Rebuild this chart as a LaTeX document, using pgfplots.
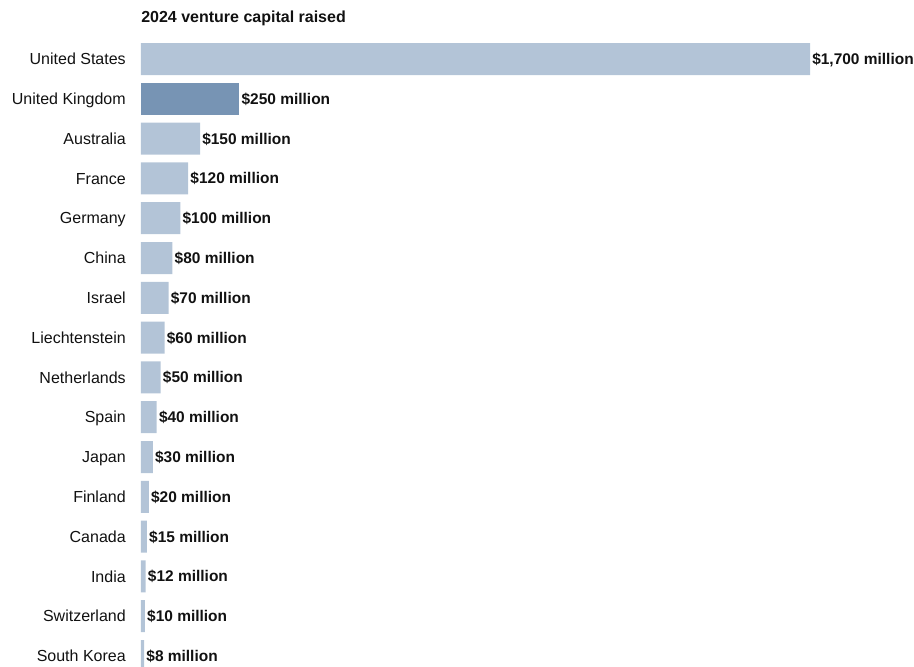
\documentclass[border=0pt]{standalone}
\usepackage{pgfplots}
\pgfplotsset{compat=1.18}
\usepackage{fontspec}
\setmainfont{Liberation Sans}
\definecolor{barlight}{HTML}{B3C4D7}
\definecolor{bardark}{HTML}{7794B4}
\definecolor{txt}{HTML}{111111}
\begin{document}
\begin{tikzpicture}
\useasboundingbox (0pt,0pt) rectangle (685.5pt,-500.25pt);
\node[anchor=west,inner sep=0pt,font=\fontsize{12}{14}\selectfont\bfseries,text=txt] at (105.75pt,-13.5pt) {2024 venture capital raised};
\begin{axis}[
  at={(105.75pt,-29.325pt)}, anchor=north west,
  scale only axis, width=578.25pt, height=477.6pt,
  xbar, bar width=24pt, bar shift=0pt,
  xmin=0, xmax=1959.2,
  ymin=-0.5, ymax=15.5, y dir=reverse,
  axis line style={draw=none},
  xtick=\empty,
  ytick={0,...,15},
  yticklabels={United States,United Kingdom,Australia,France,Germany,China,Israel,Liechtenstein,Netherlands,Spain,Japan,Finland,Canada,India,Switzerland,South Korea},
  major tick length=0pt,
  yticklabel style={anchor=east,inner sep=0pt,text height=8.6pt,text depth=0pt,xshift=-11.25pt,font=\fontsize{12}{14}\selectfont,text=txt},
  point meta=x,
  nodes near coords={\$\pgfmathprintnumber{\pgfplotspointmeta} million},
  nodes near coords align={horizontal},
  every node near coord/.append style={anchor=west,inner sep=0pt,text height=8.3pt,text depth=0pt,xshift=1.5pt,font=\fontsize{11.6}{14}\selectfont\bfseries,text=txt},
  /pgf/number format/.cd, 1000 sep={,}, fixed, precision=0, assume math mode=true,
]
\addplot[fill=barlight,draw=none] coordinates {
(1700,0) (150,2) (120,3) (100,4) (80,5) (70,6) (60,7) (50,8) (40,9) (30,10) (20,11) (15,12) (12,13) (10,14) (8,15)};
\addplot[fill=bardark,draw=none] coordinates {(250,1)};
\end{axis}
\end{tikzpicture}
\end{document}
